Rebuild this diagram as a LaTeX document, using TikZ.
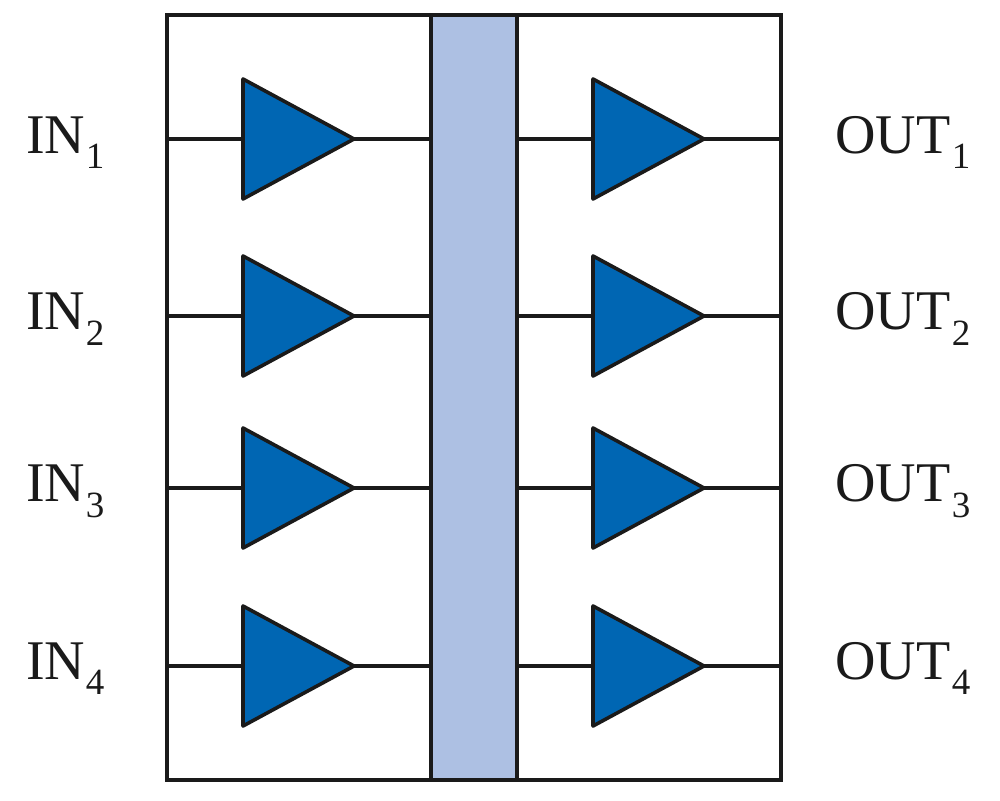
\documentclass[tikz,border=0pt]{standalone}
\usepackage{fontspec}
\setmainfont{Liberation Serif}
\definecolor{tri}{HTML}{0066B3}
\definecolor{bar}{HTML}{ADC0E3}
\definecolor{ink}{HTML}{1A1A1A}
\tikzset{
 frame/.style={draw=ink,line width=4pt,line join=miter},
 divider/.style={draw=ink,line width=4.8pt},
 wire/.style={draw=ink,line width=4pt},
 amp/.style={draw=ink,fill=tri,line width=3.6pt,line join=round},
 lab/.style={text=ink,font=\fontsize{56}{56}\selectfont,inner sep=0pt,anchor=base west}
}
\newcommand{\subs}[2]{\kern #1pt\raisebox{-15.5pt}{\fontsize{37}{37}\selectfont #2}}
\begin{document}
\begin{tikzpicture}[x=1pt,y=-1pt]
\useasboundingbox (0,0) rectangle (1000,800);
\coordinate (tl) at (167,15);
\coordinate (br) at (781,780);
\coordinate (bl) at (431,15);
\coordinate (br2) at (517,780);
\fill[bar] (bl) rectangle (br2);
\draw[frame] (tl) rectangle (br);
\draw[divider] (431,15) -- (431,780);
\draw[divider] (517,15) -- (517,780);
\foreach \i/\y/\t in {1/139/153,2/316/329.5,3/488/501.5,4/666/679}{
  \coordinate (il\i) at (167,\y);
  \coordinate (ir\i) at (431,\y);
  \coordinate (ol\i) at (517,\y);
  \coordinate (or\i) at (781,\y);
  \coordinate (a\i) at (243,\y);
  \coordinate (b\i) at (354,\y);
  \coordinate (c\i) at (593,\y);
  \coordinate (d\i) at (704,\y);
  \draw[wire] (il\i) -- (a\i);
  \draw[wire] (b\i) -- (ir\i);
  \draw[wire] (ol\i) -- (c\i);
  \draw[wire] (d\i) -- (or\i);
  \draw[amp] (243,\y-60) -- (b\i) -- (243,\y+60) -- cycle;
  \draw[amp] (593,\y-60) -- (d\i) -- (593,\y+60) -- cycle;
  \node[lab] (in\i) at (26,\t) {IN\subs{0.5}{\i}};
  \node[lab] (out\i) at (835,\t) {OUT\subs{1.5}{\i}};
}
\end{tikzpicture}
\end{document}
